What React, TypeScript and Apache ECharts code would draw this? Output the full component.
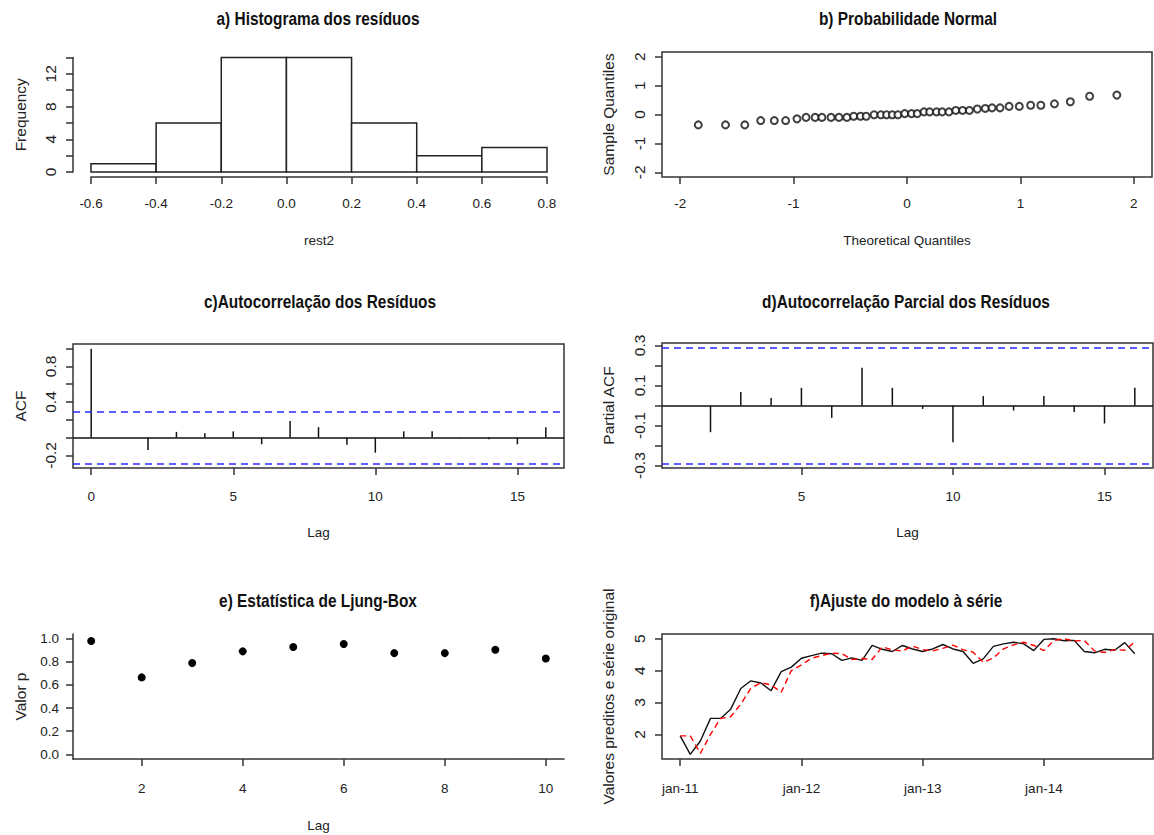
import React, { useEffect, useRef } from "react";
import * as echarts from "echarts";

// ---------- data ----------
const histBreaks = [-0.6, -0.4, -0.2, 0.0, 0.2, 0.4, 0.6, 0.8];
const histCounts = [1, 6, 14, 14, 6, 2, 3];

const qqTheoretical = [
  -1.84, -1.6, -1.43, -1.29, -1.17, -1.07, -0.97, -0.89, -0.81, -0.75, -0.67,
  -0.6, -0.53, -0.47, -0.41, -0.36, -0.29, -0.23, -0.18, -0.13, -0.08, -0.02,
  0.04, 0.09, 0.15, 0.2, 0.26, 0.31, 0.37, 0.43, 0.49, 0.55, 0.62, 0.69, 0.75,
  0.82, 0.9, 0.99, 1.09, 1.18, 1.3, 1.44, 1.61, 1.85,
];
const qqSample = [
  -0.36, -0.36, -0.36, -0.21, -0.21, -0.21, -0.15, -0.1, -0.1, -0.1, -0.1,
  -0.1, -0.1, -0.06, -0.06, -0.06, -0.01, -0.01, -0.01, -0.01, -0.01, 0.03,
  0.03, 0.03, 0.09, 0.09, 0.09, 0.09, 0.09, 0.14, 0.14, 0.14, 0.19, 0.21, 0.23,
  0.23, 0.28, 0.28, 0.32, 0.32, 0.37, 0.44, 0.63, 0.67,
];

const acfLags = [0, 1, 2, 3, 4, 5, 6, 7, 8, 9, 10, 11, 12, 13, 14, 15, 16];
const acfValues = [
  1.0, 0.0, -0.14, 0.064, 0.05, 0.07, -0.075, 0.185, 0.117, -0.08, -0.17,
  0.07, 0.07, 0.005, -0.02, -0.075, 0.117,
];
const acfBound = 0.29;

const pacfLags = [1, 2, 3, 4, 5, 6, 7, 8, 9, 10, 11, 12, 13, 14, 15, 16];
const pacfValues = [
  0.0, -0.133, 0.067, 0.038, 0.088, -0.062, 0.188, 0.088, -0.017, -0.183,
  0.047, -0.025, 0.047, -0.033, -0.09, 0.088,
];
const pacfBound = 0.29;

const ljungLags = [1, 2, 3, 4, 5, 6, 7, 8, 9, 10];
const ljungPValues = [0.98, 0.665, 0.79, 0.89, 0.927, 0.953, 0.875, 0.875, 0.904, 0.828];

const originalSeries = [
  1.95, 1.37, 1.79, 2.5, 2.5, 2.79, 3.44, 3.68, 3.61, 3.37, 3.97, 4.11, 4.39,
  4.47, 4.55, 4.53, 4.32, 4.4, 4.32, 4.79, 4.67, 4.6, 4.79, 4.68, 4.6, 4.68,
  4.82, 4.68, 4.6, 4.23, 4.37, 4.76, 4.84, 4.89, 4.84, 4.63, 4.98, 5.0, 4.94,
  4.95, 4.6, 4.56, 4.67, 4.64, 4.88, 4.53,
];
const fittedSeries = [
  1.95, 1.95, 1.4, 2.0, 2.5, 2.55, 2.95, 3.45, 3.62, 3.55, 3.32, 4.0, 4.18,
  4.39, 4.47, 4.55, 4.53, 4.35, 4.38, 4.35, 4.75, 4.65, 4.62, 4.77, 4.66, 4.62,
  4.7, 4.8, 4.66, 4.58, 4.26, 4.4, 4.68, 4.81, 4.89, 4.79, 4.63, 4.95, 5.0,
  4.93, 4.95, 4.62, 4.57, 4.66, 4.64, 4.9,
];
const fTickPositions = [0, 12, 24, 36];
const fTickLabels = ["jan-11", "jan-12", "jan-13", "jan-14"];

const titles = [
  "a) Histograma dos resíduos",
  "b) Probabilidade Normal",
  "c)Autocorrelação dos Resíduos",
  "d)Autocorrelação Parcial dos Resíduos",
  "e) Estatística de Ljung-Box",
  "f)Ajuste do modelo à série",
];

// ---------- style ----------
const FONT = "'Liberation Sans', Arial, sans-serif";
const TXT = "#222";
const LINE = "#333";
const BLUE = "#2a2aff";
const HFS = 13.5; // horizontal text size
const VFS = 15.5; // vertical text size

function xAx(o: any) {
  return {
    type: "value",
    gridIndex: o.grid,
    min: o.min,
    max: o.max,
    offset: o.offset || 0,
    axisLine: { show: !!o.line, onZero: false, lineStyle: { color: LINE, width: 1.5 } },
    axisTick: {
      show: true,
      inside: false,
      length: 7,
      customValues: o.ticks,
      lineStyle: { color: LINE, width: 1.5 },
    },
    axisLabel: {
      customValues: o.labels || o.ticks,
      formatter: o.fmt || ((v: number) => String(v)),
      margin: o.margin || 19,
      color: TXT,
      fontSize: HFS,
      fontFamily: FONT,
      hideOverlap: false,
    },
    splitLine: { show: false },
    name: o.name || "",
    nameLocation: "middle",
    nameGap: o.nameGap || 56,
    nameTextStyle: { color: TXT, fontSize: HFS, fontFamily: FONT },
  };
}

function yAx(o: any) {
  return {
    type: "value",
    gridIndex: o.grid,
    min: o.min,
    max: o.max,
    offset: o.offset || 0,
    axisLine: { show: !!o.line, onZero: false, lineStyle: { color: LINE, width: 1.5 } },
    axisTick: {
      show: true,
      inside: false,
      length: 7,
      customValues: o.ticks,
      lineStyle: { color: LINE, width: 1.5 },
    },
    axisLabel: {
      customValues: o.labels || o.ticks,
      formatter: o.fmt || ((v: number) => String(v)),
      margin: o.horizontal ? 14 : 15,
      rotate: o.horizontal ? 0 : 90,
      color: TXT,
      fontSize: o.horizontal ? HFS : VFS,
      fontFamily: FONT,
      hideOverlap: false,
    },
    splitLine: { show: false },
    name: o.name || "",
    nameLocation: "middle",
    nameRotate: 90,
    nameGap: o.nameGap || 45,
    nameTextStyle: { color: TXT, fontSize: VFS, fontFamily: FONT },
  };
}

const fmt1 = (v: number) => v.toFixed(1);

function spikeSeries(xi: number, lags: number[], vals: number[], bound: number) {
  return {
    type: "custom",
    xAxisIndex: xi,
    yAxisIndex: xi,
    data: lags.map((l, i) => [l, vals[i]]),
    encode: { x: 0, y: 1 },
    renderItem: (params: any, api: any) => {
      const lag = api.value(0);
      const v = api.value(1);
      const a = api.coord([lag, 0]);
      const b = api.coord([lag, v]);
      return {
        type: "line",
        shape: { x1: a[0], y1: a[1], x2: b[0], y2: b[1] },
        style: { stroke: "#111", lineWidth: 1.5 },
      };
    },
    markLine: {
      silent: true,
      symbol: ["none", "none"],
      label: { show: false },
      animation: false,
      data: [
        { yAxis: 0, lineStyle: { color: "#111", type: "solid", width: 1.5 } },
        { yAxis: bound, lineStyle: { color: BLUE, type: [7, 5], width: 1.6 } },
        { yAxis: -bound, lineStyle: { color: BLUE, type: [7, 5], width: 1.6 } },
      ],
    },
  };
}

export default function App() {
  const ref = useRef<HTMLDivElement>(null);

  useEffect(() => {
    document.body.style.margin = "0";
    if (!ref.current) return;
    const chart = echarts.init(ref.current, undefined, { renderer: "svg" });

    const boxed = { show: true, borderColor: LINE, borderWidth: 1.5, backgroundColor: "transparent" };
    const grids = [
      { left: 91, top: 57.5, width: 456, height: 114.5, show: false },
      { left: 662, top: 52, width: 490, height: 125, ...boxed },
      { left: 73, top: 344, width: 491, height: 124, ...boxed },
      { left: 662, top: 343, width: 491, height: 125, ...boxed },
      { left: 73, top: 634, width: 491, height: 125, show: false },
      { left: 662, top: 634, width: 491, height: 125, ...boxed },
    ];

    const xAxis = [
      xAx({ grid: 0, min: -0.6, max: 0.8, offset: 5, line: true, ticks: histBreaks, fmt: fmt1, name: "rest2", nameGap: 56, margin: 19 }),
      xAx({ grid: 1, min: -2.16, max: 2.16, ticks: [-2, -1, 0, 1, 2], name: "Theoretical Quantiles", nameGap: 56, margin: 19 }),
      xAx({ grid: 2, min: -0.64, max: 16.64, ticks: [0, 5, 10, 15], name: "Lag", nameGap: 57, margin: 21 }),
      xAx({ grid: 3, min: 0.4, max: 16.6, ticks: [5, 10, 15], name: "Lag", nameGap: 57, margin: 21 }),
      xAx({ grid: 4, min: 0.64, max: 10.36, line: true, ticks: [2, 4, 6, 8, 10], name: "Lag", nameGap: 59, margin: 22 }),
      xAx({
        grid: 5,
        min: -1.8,
        max: 46.8,
        margin: 22,
        ticks: fTickPositions,
        fmt: (v: number) => fTickLabels[fTickPositions.indexOf(v)] || "",
      }),
    ];

    const yAxis = [
      yAx({ grid: 0, min: 0, max: 14, offset: 18, line: true, ticks: [0, 2, 4, 6, 8, 10, 12, 14], labels: [0, 4, 8, 12], name: "Frequency" }),
      yAx({ grid: 1, min: -2.16, max: 2.16, ticks: [-2, -1, 0, 1, 2], name: "Sample Quantiles", nameGap: 46 }),
      yAx({ grid: 2, min: -0.342, max: 1.052, ticks: [-0.2, 0, 0.2, 0.4, 0.6, 0.8, 1.0], labels: [-0.2, 0.4, 0.8], fmt: fmt1, name: "ACF" }),
      yAx({ grid: 3, min: -0.312, max: 0.312, ticks: [-0.3, -0.2, -0.1, 0, 0.1, 0.2, 0.3], labels: [-0.3, -0.1, 0.1, 0.3], fmt: fmt1, name: "Partial ACF", nameGap: 46 }),
      yAx({ grid: 4, min: -0.04, max: 1.04, line: true, horizontal: true, ticks: [0, 0.2, 0.4, 0.6, 0.8, 1.0], fmt: fmt1, name: "Valor p" }),
      yAx({ grid: 5, min: 1.225, max: 5.15, ticks: [2, 3, 4, 5], name: "Valores preditos e série original", nameGap: 46 }),
    ];

    const titlePos = [
      [318, 18], [908, 18], [320, 301], [906, 301], [318, 600], [906, 600],
    ];

    const option: any = {
      animation: false,
      backgroundColor: "#fff",
      grid: grids,
      xAxis,
      yAxis,
      graphic: titles.map((t, i) => ({
        type: "text",
        x: titlePos[i][0],
        y: titlePos[i][1],
        scaleX: 0.82,
        style: {
          text: t,
          fill: "#111",
          font: `bold 18.8px ${FONT}`,
          align: "center",
          verticalAlign: "middle",
        },
      })),
      series: [
        {
          type: "custom",
          xAxisIndex: 0,
          yAxisIndex: 0,
          data: histCounts.map((c, i) => [histBreaks[i], histBreaks[i + 1], c]),
          encode: { x: [0, 1], y: 2 },
          renderItem: (params: any, api: any) => {
            const lo = api.value(0);
            const hi = api.value(1);
            const c = api.value(2);
            const p0 = api.coord([lo, c]);
            const p1 = api.coord([hi, 0]);
            return {
              type: "rect",
              shape: { x: p0[0], y: p0[1], width: p1[0] - p0[0], height: p1[1] - p0[1] },
              style: { fill: "#fff", stroke: "#222", lineWidth: 1.5 },
            };
          },
        },
        {
          type: "scatter",
          xAxisIndex: 1,
          yAxisIndex: 1,
          symbol: "emptyCircle",
          symbolSize: 7,
          itemStyle: { color: "#111", borderColor: "#111", borderWidth: 1.2 },
          data: qqTheoretical.map((x, i) => [x, qqSample[i]]),
        },
        spikeSeries(2, acfLags, acfValues, acfBound),
        spikeSeries(3, pacfLags, pacfValues, pacfBound),
        {
          type: "scatter",
          xAxisIndex: 4,
          yAxisIndex: 4,
          symbol: "circle",
          symbolSize: 8,
          itemStyle: { color: "#000", opacity: 1 },
          data: ljungLags.map((l, i) => [l, ljungPValues[i]]),
        },
        {
          type: "line",
          xAxisIndex: 5,
          yAxisIndex: 5,
          symbol: "none",
          lineStyle: { color: "#111", width: 1.4 },
          data: originalSeries.map((v, i) => [i, v]),
        },
        {
          type: "line",
          xAxisIndex: 5,
          yAxisIndex: 5,
          symbol: "none",
          lineStyle: { color: "#ff0000", width: 1.4, type: [6, 4] },
          data: fittedSeries.map((v, i) => [i, v]),
        },
      ],
    };

    chart.setOption(option);
    return () => chart.dispose();
  }, []);

  return <div ref={ref} style={{ width: 1154, height: 835 }} />;
}
